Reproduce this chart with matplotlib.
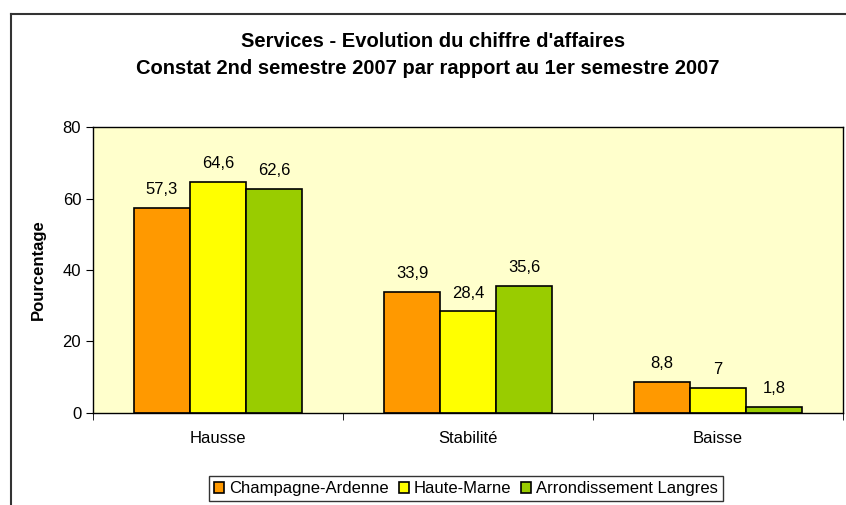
import numpy as np
import matplotlib.pyplot as plt
from matplotlib.lines import Line2D

categories = ["Hausse", "Stabilité", "Baisse"]
series = ["Champagne-Ardenne", "Haute-Marne", "Arrondissement Langres"]
champagne = [57.3, 33.9, 8.8]
haute_marne = [64.6, 28.4, 7.0]
langres = [62.6, 35.6, 1.8]
colors = ["#FF9900", "#FFFF00", "#99CC00"]

plt.rcParams["font.family"] = ["Liberation Sans", "DejaVu Sans"]

fig = plt.figure(figsize=(8.46, 5.05), dpi=100)
ax = fig.add_axes([0.1099, 0.1822, 0.8866, 0.5663])
ax.set_facecolor("#FFFFCC")

x = np.arange(len(categories))
w = 0.224
for i, (vals, col, name) in enumerate(zip([champagne, haute_marne, langres], colors, series)):
    pos = x + (i - 1) * w
    ax.bar(pos, vals, width=w, color=col, edgecolor="black", linewidth=1.2, label=name)
    for px, v in zip(pos, vals):
        txt = ("%g" % v).replace(".", ",")
        ax.text(px, v + 3.0, txt, ha="center", va="bottom", fontsize=12)

ax.set_xlim(-0.5, 2.5)
ax.set_ylim(0, 80)
ax.set_yticks([0, 20, 40, 60, 80])
ax.set_xticks(x)
ax.set_xticklabels(categories, fontsize=12)
ax.set_xticks([-0.5, 0.5, 1.5, 2.5], minor=True)
ax.tick_params(axis="x", which="major", length=0, pad=13)
ax.tick_params(axis="x", which="minor", length=5, direction="out")
ax.tick_params(axis="y", length=5, direction="out", labelsize=12)
for s in ax.spines.values():
    s.set_linewidth(1)
ax.set_ylabel("Pourcentage", fontsize=12, fontweight="bold", labelpad=12)

fig.text(0.512, 0.917, "Services - Evolution du chiffre d'affaires",
         ha="center", va="center", fontsize=14.5, fontweight="bold")
fig.text(0.506, 0.865, "Constat 2nd semestre 2007 par rapport au 1er semestre 2007",
         ha="center", va="center", fontsize=14.5, fontweight="bold")

# outer chart frame
fig.add_artist(Line2D([0.013, 0.013], [0, 0.972], color="#333333", lw=1.5))
fig.add_artist(Line2D([0.013, 1], [0.972, 0.972], color="#333333", lw=1.5))

leg = fig.legend(loc="center", bbox_to_anchor=(0.551, 0.032), ncol=3, fontsize=12,
                 frameon=True, fancybox=False, edgecolor="black",
                 handlelength=0.6, handleheight=0.6, handletextpad=0.3,
                 columnspacing=0.6, borderpad=0.3)
leg.get_frame().set_linewidth(1)

fig.savefig("out.png", dpi=100)
